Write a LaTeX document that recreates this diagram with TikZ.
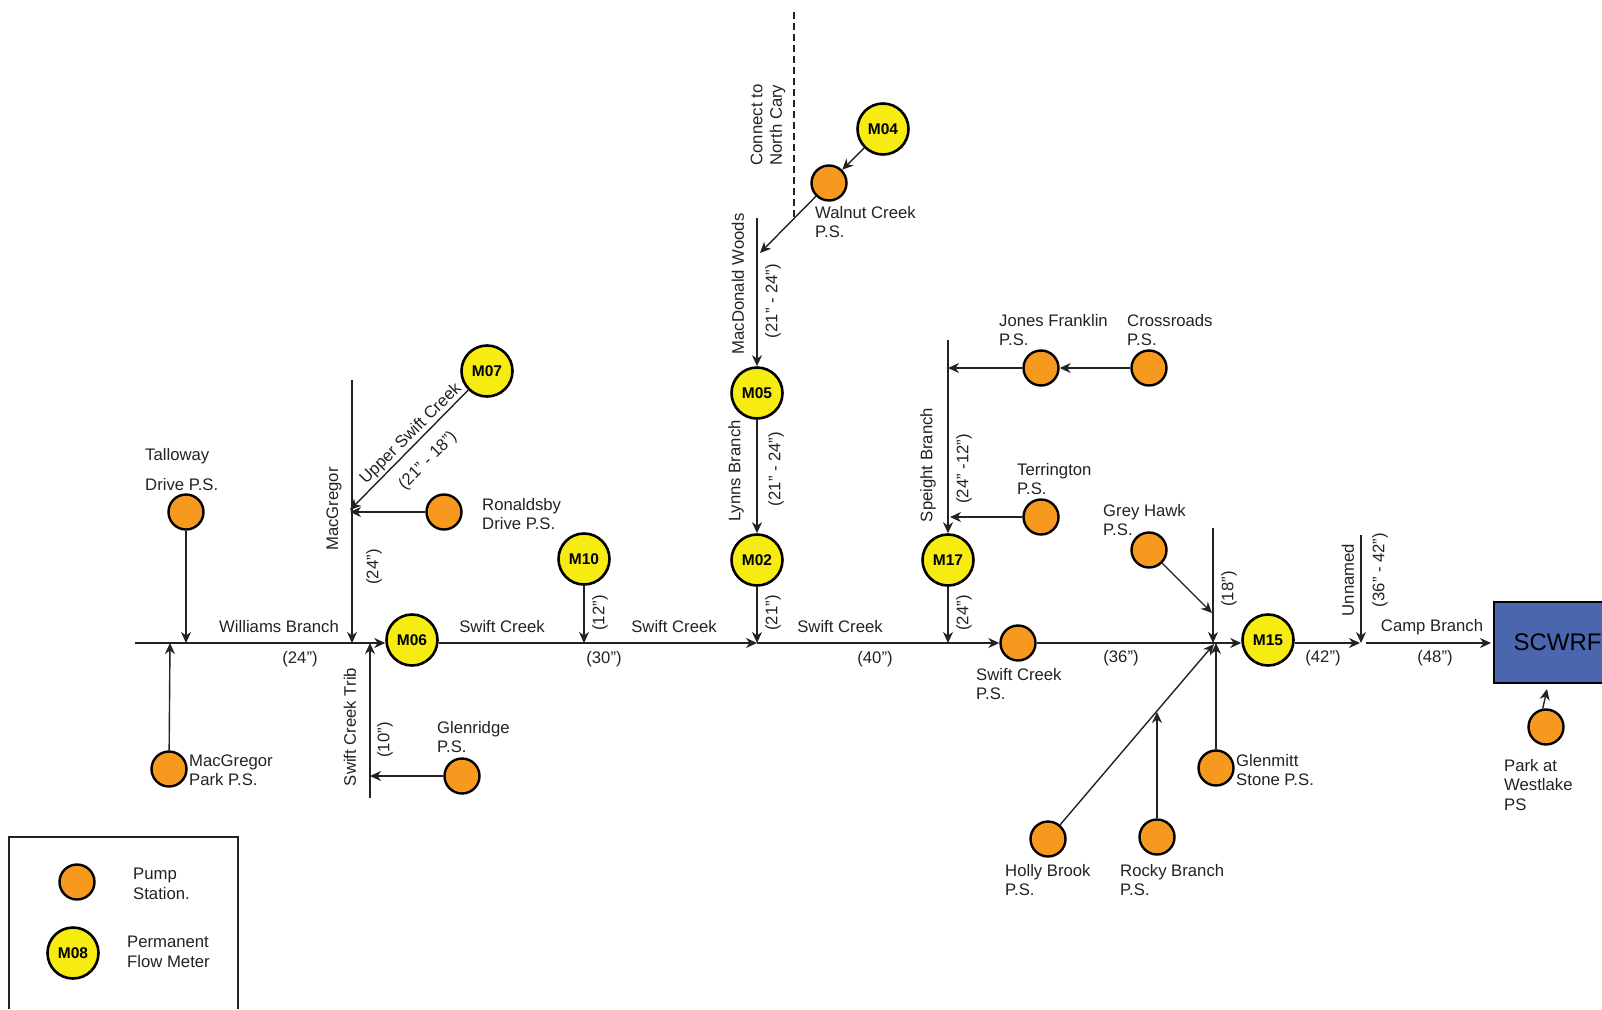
\documentclass[tikz,border=0pt]{standalone}
\usepackage{fontspec}
\setmainfont{Liberation Sans}
\usetikzlibrary{arrows.meta}
\definecolor{pumpc}{HTML}{F7991E}
\definecolor{meterc}{HTML}{F6EC12}
\definecolor{plantc}{HTML}{4A66AF}
\definecolor{ink}{HTML}{222222}
\tikzset{
 pump/.style={circle,draw=black,fill=pumpc,line width=2.4pt,minimum size=35pt,inner sep=0pt},
 meter/.style={circle,draw=black,fill=meterc,line width=2.6pt,minimum size=51pt,inner sep=0pt,font=\fontsize{15.5}{17}\selectfont\bfseries,text=black},
 lbl/.style={inner sep=0pt,align=center,text=ink,font=\fontsize{16.7}{19.5}\selectfont},
 lft/.style={lbl,align=left,anchor=west},
 vert/.style={lbl,rotate=90},
 pipe/.style={draw=ink,line width=1.4pt},
 flow/.style={pipe,-{Stealth[length=11pt,width=10pt,inset=3.5pt]}},
}
\begin{document}
\begin{tikzpicture}[x=1pt,y=-1pt]
\useasboundingbox (0,0) rectangle (1602,1009);
% pump stations
\node[pump] (talloway) at (186,512) {};
\node[pump] (macpark) at (169,769) {};
\node[pump] (glenridge) at (462,776) {};
\node[pump] (ronaldsby) at (444,512) {};
\node[pump] (walnut) at (829,183) {};
\node[pump] (swiftps) at (1018,643) {};
\node[pump] (jones) at (1041,368) {};
\node[pump] (crossroads) at (1149,368) {};
\node[pump] (terrington) at (1041,517) {};
\node[pump] (greyhawk) at (1149,550) {};
\node[pump] (holly) at (1048,839) {};
\node[pump] (rocky) at (1157,837) {};
\node[pump] (glenmitt) at (1216,768) {};
\node[pump] (westlake) at (1546,727) {};
% meters
\node[meter] (m04) at (883,129) {M04};
\node[meter] (m05) at (757,393) {M05};
\node[meter] (m02) at (757,560) {M02};
\node[meter] (m10) at (584,559) {M10};
\node[meter] (m06) at (412,640) {M06};
\node[meter] (m07) at (487,371) {M07};
\node[meter] (m17) at (948,560) {M17};
\node[meter] (m15) at (1268,640) {M15};
% plant
\node[draw=black,fill=plantc,line width=2.2pt,minimum width=127pt,minimum height=81pt,inner sep=0pt,anchor=west,text=black,font=\fontsize{24}{28}\selectfont] (scwrf) at (1493,642.5) {SCWRF};
% free ends
\coordinate (w0) at (135,643);
\coordinate (jtal) at (186,643);
\coordinate (jmacp) at (170,643);
\coordinate (mactop) at (352,380);
\coordinate (jmac) at (352,643);
\coordinate (jmacu) at (350,510);
\coordinate (jron) at (350,512);
\coordinate (tribb) at (370,798);
\coordinate (jtrib) at (370,643);
\coordinate (jglen) at (370,776);
\coordinate (jm10) at (584,643);
\coordinate (jm02) at (757,643);
\coordinate (mwtop) at (757,218);
\coordinate (jwal) at (760,253);
\coordinate (dtop) at (794,12);
\coordinate (dbot) at (794,218);
\coordinate (sptop) at (948,340);
\coordinate (jsp) at (948,368);
\coordinate (jter) at (950,517);
\coordinate (jm17) at (948,643);
\coordinate (jgrey) at (1212,613);
\coordinate (t18) at (1213,528);
\coordinate (j18) at (1213,643);
\coordinate (jgm) at (1216,643);
\coordinate (jholly) at (1214,644);
\coordinate (jrocky) at (1157,712);
\coordinate (untop) at (1361,535);
\coordinate (jun) at (1361,643);
\coordinate (j42) at (1360,643);
\coordinate (camp) at (1366,643);
\coordinate (jwest) at (1547,689);
% connectors
\draw[flow] (w0) -- (m06.west |- w0);
\draw[flow] (talloway) -- (jtal);
\draw[flow] (macpark) -- (jmacp);
\draw[flow] (mactop) -- (jmac);
\draw[flow] (m07) -- (jmacu);
\draw[flow] (ronaldsby) -- (jron);
\draw[flow] (tribb) -- (jtrib);
\draw[flow] (glenridge) -- (jglen);
\draw[flow] (m06.east |- jm02) -- (jm02);
\draw[flow] (m10) -- (jm10);
\draw[flow] (m02) -- (jm02);
\draw[flow] (m05) -- (m02);
\draw[flow] (mwtop) -- (m05);
\draw[flow] (walnut) -- (jwal);
\draw[flow] (m04) -- (walnut);
\draw[draw=ink,line width=1.3pt,dash pattern=on 7pt off 4pt] (dtop) -- (dbot);
\draw[flow] (jm02) -- (swiftps);
\draw[flow] (sptop) -- (m17);
\draw[flow] (m17) -- (jm17);
\draw[flow] (jones) -- (jsp);
\draw[flow] (crossroads) -- (jones);
\draw[flow] (terrington) -- (jter);
\draw[flow] (greyhawk) -- (jgrey);
\draw[flow] (t18) -- (j18);
\draw[flow] (glenmitt) -- (jgm);
\draw[flow] (holly) -- (jholly);
\draw[flow] (rocky) -- (jrocky);
\draw[flow] (swiftps) -- (m15.west |- swiftps);
\draw[flow] (m15.east |- j42) -- (j42);
\draw[flow] (untop) -- (jun);
\draw[flow,shorten >=2pt] (camp) -- (scwrf.west |- camp);
\draw[flow] (westlake.100) -- (jwest);
% labels
\node[lft] (ltal) at (145,470) {Talloway\\[10.5pt]Drive P.S.};
\node[lft] (lmacp) at (189,770) {MacGregor\\Park P.S.};
\node[lbl] (lwb) at (279,627) {Williams Branch};
\node[lbl] (l24a) at (300,659) {(24")};
\node[vert] (lmac) at (334,509) {MacGregor};
\node[vert] (l24b) at (374,567) {(24")};
\node[lbl,rotate=45] (lupper) at (411,434) {Upper Swift Creek};
\node[lbl,rotate=45] (l2118) at (428,461) {(21" - 18")};
\node[lft] (lron) at (482,514) {Ronaldsby\\Drive P.S.};
\node[lbl] (ls1) at (502,627) {Swift Creek};
\node[lbl] (l30) at (604,659) {(30")};
\node[vert] (l12) at (600,613) {(12")};
\node[vert] (ltrib) at (350,727) {Swift Creek Trib};
\node[vert] (l10) at (385,740) {(10")};
\node[lft] (lglen) at (437,737) {Glenridge\\P.S.};
\node[lbl] (ls2) at (674,627) {Swift Creek};
\node[vert] (l21) at (773,613) {(21")};
\node[vert] (llynn) at (736,471) {Lynns Branch};
\node[vert] (l2124b) at (776,469) {(21" - 24")};
\node[vert] (lmw) at (738,284) {MacDonald Woods};
\node[vert] (l2124a) at (773,301) {(21" - 24")};
\node[vert,align=left] (lconn) at (768,125) {Connect to\\North Cary};
\node[lft] (lwal) at (815,222) {Walnut Creek\\P.S.};
\node[lbl] (ls3) at (840,627) {Swift Creek};
\node[lbl] (l40) at (875,659) {(40")};
\node[vert] (lsp) at (928,465) {Speight Branch};
\node[vert] (l2412) at (964,469) {(24" -12")};
\node[vert] (l24c) at (964,613) {(24")};
\node[lft] (ljones) at (999,330) {Jones Franklin\\P.S.};
\node[lft] (lcross) at (1127,330) {Crossroads\\P.S.};
\node[lft] (lter) at (1017,479) {Terrington\\P.S.};
\node[lft] (lgrey) at (1103,520) {Grey Hawk\\P.S.};
\node[vert] (l18) at (1229,589) {(18")};
\node[lft] (lsps) at (976,684) {Swift Creek\\P.S.};
\node[lbl] (l36) at (1121,658) {(36")};
\node[lft] (lholly) at (1005,880) {Holly Brook\\P.S.};
\node[lft] (lrocky) at (1120,880) {Rocky Branch\\P.S.};
\node[lft] (lgm) at (1236,770) {Glenmitt\\Stone P.S.};
\node[lbl] (l42) at (1323,658) {(42")};
\node[vert] (lun) at (1348,580) {Unnamed};
\node[vert] (l3642) at (1380,570) {(36" - 42")};
\node[lbl] (lcamp) at (1432,627) {Camp Branch};
\node[lbl] (l48) at (1435,658) {(48")};
\node[lft] (lpark) at (1504,785) {Park at\\Westlake\\PS};
% legend
\draw[draw=ink,line width=1.3pt] (9,1009) -- (9,837) -- (238,837) -- (238,1009);
\node[pump] (lgpump) at (77,882) {};
\node[meter] (lgmeter) at (73,953) {M08};
\node[lft] (lgp) at (133,884) {Pump\\Station.};
\node[lft] (lgm2) at (127,952) {Permanent\\Flow Meter};
\end{tikzpicture}
\end{document}
